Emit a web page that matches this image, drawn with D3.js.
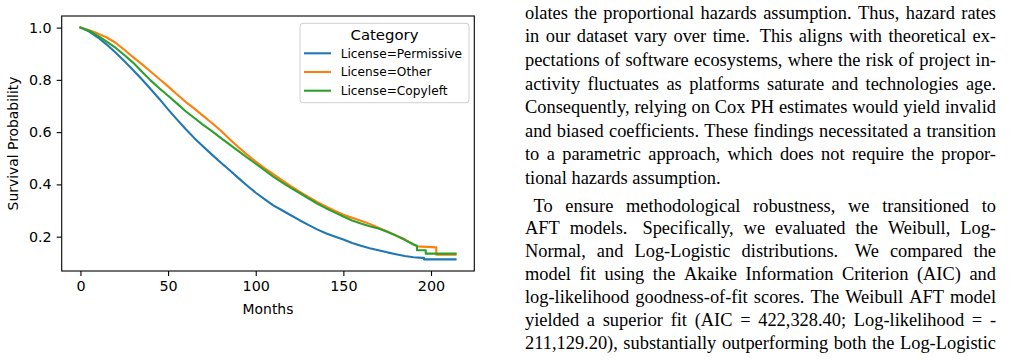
<!DOCTYPE html>
<html><head><meta charset="utf-8">
<script src="https://cdn.jsdelivr.net/npm/d3@7"></script>
<style>html,body{margin:0;padding:0;background:#fff;}svg{display:block;}</style>
</head><body>
<svg id="c" width="1036" height="363"></svg>
<script>
// ---- data ----
const permMonths = [0,5,10,15,20,25,30,35,40,45,50,55,60,65,70,75,80,85,90,95,100,105,110,115,120,125,130,135,140,145,150,155,160,165,170,175,180,185,190,195,196,196,214];
const permValues = [1.0,0.985,0.962,0.935,0.905,0.872,0.838,0.802,0.765,0.727,0.687,0.649,0.612,0.577,0.545,0.514,0.484,0.455,0.425,0.396,0.368,0.344,0.320,0.301,0.282,0.263,0.245,0.228,0.213,0.201,0.189,0.176,0.165,0.156,0.148,0.140,0.133,0.126,0.121,0.119,0.119,0.113,0.113];
const otherMonths = [0,5,10,15,20,25,30,35,40,45,50,55,60,65,70,75,80,85,90,95,100,105,110,115,120,125,130,135,140,145,150,155,160,165,170,175,180,185,188,192,203,203,214];
const otherValues = [1.0,0.990,0.977,0.962,0.942,0.915,0.887,0.860,0.832,0.803,0.775,0.745,0.716,0.690,0.662,0.635,0.606,0.574,0.543,0.514,0.487,0.462,0.439,0.416,0.393,0.372,0.352,0.333,0.316,0.299,0.284,0.272,0.261,0.249,0.234,0.220,0.205,0.190,0.178,0.163,0.159,0.131,0.131];
const copyMonths = [0,5,10,15,20,25,30,35,40,45,50,55,60,65,70,75,80,85,90,95,100,105,110,115,120,125,130,135,140,145,150,155,160,165,170,175,180,185,190,192,192,197,197,214];
const copyValues = [1.0,0.988,0.968,0.946,0.923,0.895,0.866,0.832,0.798,0.768,0.739,0.710,0.680,0.654,0.628,0.604,0.578,0.553,0.528,0.503,0.479,0.455,0.430,0.408,0.387,0.367,0.347,0.327,0.309,0.293,0.277,0.262,0.250,0.240,0.231,0.219,0.204,0.188,0.170,0.165,0.148,0.148,0.135,0.135];
const seriesNames = ["License=Permissive","License=Other","License=Copyleft"];
const seriesColors = ["#1f77b4","#ff7f0e","#2ca02c"];
const xTicks = [0,50,100,150,200];
const yTicks = [0.2,0.4,0.6,0.8,1.0];
const xLabel = "Months", yLabel = "Survival Probability", legendTitle = "Category";
const paraLines = [
 {t:"olates the proportional hazards assumption. Thus, hazard rates", j:true, ind:0},
 {t:"in our dataset vary over time.  This aligns with theoretical ex-", j:true, ind:0},
 {t:"pectations of software ecosystems, where the risk of project in-", j:true, ind:0},
 {t:"activity fluctuates as platforms saturate and technologies age.", j:true, ind:0},
 {t:"Consequently, relying on Cox PH estimates would yield invalid", j:true, ind:0},
 {t:"and biased coefficients. These findings necessitated a transition", j:true, ind:0},
 {t:"to a parametric approach, which does not require the propor-", j:true, ind:0},
 {t:"tional hazards assumption.", j:false, ind:0},
 {t:"To ensure methodological robustness, we transitioned to", j:true, ind:1},
 {t:"AFT models.  Specifically, we evaluated the Weibull, Log-", j:true, ind:0},
 {t:"Normal, and Log-Logistic distributions.  We compared the", j:true, ind:0},
 {t:"model fit using the Akaike Information Criterion (AIC) and", j:true, ind:0},
 {t:"log-likelihood goodness-of-fit scores. The Weibull AFT model", j:true, ind:0},
 {t:"yielded a superior fit (AIC = 422,328.40; Log-likelihood = -", j:true, ind:0},
 {t:"211,129.20), substantially outperforming both the Log-Logistic", j:true, ind:0}
];

// ---- chart ----
const svg = d3.select("#c");
const L = 61.7, R = 474.3, T = 16, B = 271;
const series = [
  {name:seriesNames[0], color:seriesColors[0], pts:permMonths.map((m,i)=>[m,permValues[i]])},
  {name:seriesNames[1], color:seriesColors[1], pts:otherMonths.map((m,i)=>[m,otherValues[i]])},
  {name:seriesNames[2], color:seriesColors[2], pts:copyMonths.map((m,i)=>[m,copyValues[i]])}
];
const allPts = series.flatMap(s=>s.pts);
const xe = d3.extent(allPts, d=>d[0]), ye = d3.extent(allPts, d=>d[1]);
const xm = (xe[1]-xe[0])*0.05, ym = (ye[1]-ye[0])*0.05;
const x = d3.scaleLinear().domain([xe[0]-xm, xe[1]+xm]).range([L,R]);
const y = d3.scaleLinear().domain([ye[0]-ym, ye[1]+ym]).range([B,T]);

const font = "DejaVu Sans, sans-serif";
const gx = svg.append("g").attr("transform",`translate(0,${B})`)
  .call(d3.axisBottom(x).tickValues(xTicks).tickFormat(d3.format("d")).tickSize(5).tickSizeOuter(0).tickPadding(5));
const gy = svg.append("g").attr("transform",`translate(${L},0)`)
  .call(d3.axisLeft(y).tickValues(yTicks).tickFormat(d3.format(".1f")).tickSize(5).tickSizeOuter(0).tickPadding(5));
[gx,gy].forEach(g=>{
  g.select(".domain").remove();
  g.selectAll(".tick line").attr("stroke","#000").attr("stroke-width",1.1);
  g.selectAll(".tick text").attr("fill","#000").style("font-family",font).style("font-size","14.3px");
});

const line = d3.line().x(d=>x(d[0])).y(d=>y(d[1]));
svg.append("defs").append("clipPath").attr("id","pc").append("rect")
  .attr("x",L).attr("y",T).attr("width",R-L).attr("height",B-T);
svg.append("g").attr("clip-path","url(#pc)").selectAll("path.s").data(series).join("path")
  .attr("class","s").attr("d",d=>line(d.pts)).attr("fill","none")
  .attr("stroke",d=>d.color).attr("stroke-width",2.1).attr("stroke-linejoin","round").attr("stroke-linecap","square");

svg.append("rect").attr("x",L).attr("y",T).attr("width",R-L).attr("height",B-T)
  .attr("fill","none").attr("stroke","#000").attr("stroke-width",1.1);

svg.append("text").attr("x",(L+R)/2).attr("y",314).attr("text-anchor","middle")
  .style("font-family",font).style("font-size","13.9px").text(xLabel);
svg.append("text").attr("transform",`translate(17.5,${(T+B)/2}) rotate(-90)`).attr("text-anchor","middle")
  .style("font-family",font).style("font-size","13.9px").text(yLabel);

// legend
const lg = svg.append("g");
lg.append("rect").attr("x",300).attr("y",23.3).attr("width",169).attr("height",79.4).attr("rx",3)
  .attr("fill","#fff").attr("fill-opacity",0.8).attr("stroke","#d0d0d0").attr("stroke-width",1);
lg.append("text").attr("x",384.5).attr("y",39.8).attr("text-anchor","middle")
  .style("font-family",font).style("font-size","14.9px").text(legendTitle);
series.forEach((s,i)=>{
  const yy = 53.3 + i*18.7;
  lg.append("line").attr("x1",304).attr("x2",331).attr("y1",yy).attr("y2",yy)
    .attr("stroke",s.color).attr("stroke-width",2.1);
  lg.append("text").attr("x",340.7).attr("y",yy).attr("dy","0.36em")
    .style("font-family",font).style("font-size","12.2px").text(s.name);
});

// ---- paragraph text ----
const TX0 = 525, TX1 = 996, indent = 8.5;
const baseTop = 18.8, lh1 = 23.6, base2 = 211.5, lh2 = 22.85;
const tfont = "Liberation Serif, Times New Roman, serif", tsize = 18.4;
const tg = svg.append("g").style("font-family",tfont).style("font-size",tsize+"px").attr("fill","#000");
const meas = tg.append("text").attr("x",-1000).attr("y",-1000);
paraLines.forEach((ln,i)=>{
  const by = i < 8 ? baseTop + i*lh1 : base2 + (i-8)*lh2;
  const x0 = TX0 + ln.ind*indent;
  if(!ln.j){ tg.append("text").attr("x",x0).attr("y",by).text(ln.t); return; }
  const words = ln.t.split(/ +/);
  const gaps = [];
  for(let k=0;k<words.length-1;k++){ gaps.push(/[.]$/.test(words[k]) && /^[A-Z]/.test(words[k+1]) && /  /.test(ln.t) ? 1.5 : 1); }
  const ws = words.map(w=>{ meas.text(w); return meas.node().getComputedTextLength(); });
  const tot = d3.sum(ws), gw = d3.sum(gaps);
  const unit = (TX1 - x0 - tot)/gw;
  let cx = x0;
  words.forEach((w,k)=>{
    tg.append("text").attr("x",cx).attr("y",by).text(w);
    cx += ws[k] + (k<gaps.length ? gaps[k]*unit : 0);
  });
});
meas.remove();
</script>
</body></html>
